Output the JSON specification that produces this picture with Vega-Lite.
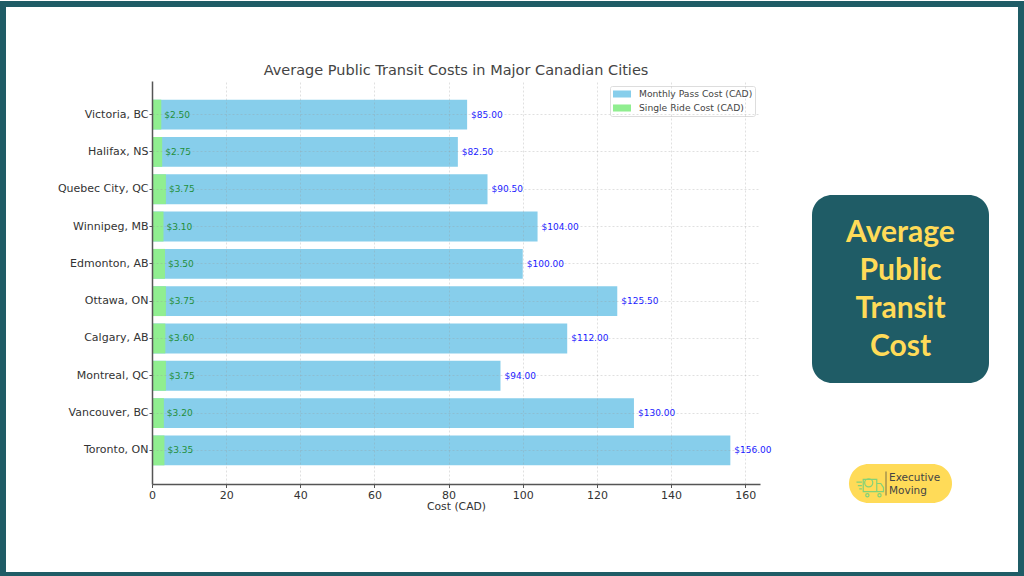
{"$schema":"https://vega.github.io/schema/vega-lite/v6.json","background":"white","padding":0,"bounds":"flush","spacing":0,"resolve":{"legend":{"color":"independent"}},"config":{"view":{"stroke":null},"font":"DejaVu Sans","text":{"fontSize":1}},"datasets":{"costs":[{"city":"Victoria, BC","series":"Monthly Pass Cost (CAD)","cost":85},{"city":"Halifax, NS","series":"Monthly Pass Cost (CAD)","cost":82.5},{"city":"Quebec City, QC","series":"Monthly Pass Cost (CAD)","cost":90.5},{"city":"Winnipeg, MB","series":"Monthly Pass Cost (CAD)","cost":104},{"city":"Edmonton, AB","series":"Monthly Pass Cost (CAD)","cost":100},{"city":"Ottawa, ON","series":"Monthly Pass Cost (CAD)","cost":125.5},{"city":"Calgary, AB","series":"Monthly Pass Cost (CAD)","cost":112},{"city":"Montreal, QC","series":"Monthly Pass Cost (CAD)","cost":94},{"city":"Vancouver, BC","series":"Monthly Pass Cost (CAD)","cost":130},{"city":"Toronto, ON","series":"Monthly Pass Cost (CAD)","cost":156},{"city":"Victoria, BC","series":"Single Ride Cost (CAD)","cost":2.5},{"city":"Halifax, NS","series":"Single Ride Cost (CAD)","cost":2.75},{"city":"Quebec City, QC","series":"Single Ride Cost (CAD)","cost":3.75},{"city":"Winnipeg, MB","series":"Single Ride Cost (CAD)","cost":3.1},{"city":"Edmonton, AB","series":"Single Ride Cost (CAD)","cost":3.5},{"city":"Ottawa, ON","series":"Single Ride Cost (CAD)","cost":3.75},{"city":"Calgary, AB","series":"Single Ride Cost (CAD)","cost":3.6},{"city":"Montreal, QC","series":"Single Ride Cost (CAD)","cost":3.75},{"city":"Vancouver, BC","series":"Single Ride Cost (CAD)","cost":3.2},{"city":"Toronto, ON","series":"Single Ride Cost (CAD)","cost":3.35}],"blank":[{"t":""}],"panel":[{"t":"Average"},{"t":"Public"},{"t":"Transit"},{"t":"Cost"}],"logo":[{"t":"Executive"},{"t":"Moving"}]},"hconcat":[{"bounds":"flush","spacing":0,"vconcat":[{"width":1024,"height":6,"view":{"fill":"#1f5c66","stroke":null},"data":{"name":"blank"},"mark":"text","encoding":{"text":{"field":"t"}}},{"width":6,"height":565,"view":{"fill":"#1f5c66","stroke":null},"data":{"name":"blank"},"mark":"text","encoding":{"text":{"field":"t"}}},{"width":1024,"height":5,"view":{"fill":"#1f5c66","stroke":null},"data":{"name":"blank"},"mark":"text","encoding":{"text":{"field":"t"}}}]},{"width":152,"height":1,"data":{"name":"blank"},"mark":"text","encoding":{"text":{"field":"t"}}},{"bounds":"flush","spacing":0,"resolve":{"legend":{"color":"independent"}},"vconcat":[{"width":1,"height":80,"data":{"name":"blank"},"mark":"text","encoding":{"text":{"field":"t"}}},{"width":608,"height":403,"title":{"text":"Average Public Transit Costs in Major Canadian Cities","fontSize":14.5,"fontWeight":"normal","color":"#444444","anchor":"middle","offset":3},"data":{"name":"costs"},"encoding":{"y":{"field":"city","type":"nominal","sort":null,"title":null,"scale":{"paddingInner":0.2,"paddingOuter":0.5},"axis":{"labelFontSize":11,"labelColor":"#333333","domainColor":"#555555","domainWidth":1.5,"tickColor":"#555555","tickSize":3,"labelPadding":1,"gridColor":"#999999","gridOpacity":0.3,"gridDash":[2,2],"grid":true,"zindex":1}},"x":{"field":"cost","type":"quantitative","title":"Cost (CAD)","scale":{"domain":[0,164],"nice":false},"axis":{"values":[0,20,40,60,80,100,120,140,160],"labelFontSize":11,"labelColor":"#333333","labelFlush":false,"titleFontSize":10.8,"titleFontWeight":"normal","titleColor":"#333333","titlePadding":0,"domainColor":"#555555","domainWidth":1.5,"tickColor":"#555555","tickSize":3.5,"gridColor":"#999999","gridOpacity":0.3,"gridDash":[2,2],"grid":true,"zindex":1}}},"layer":[{"mark":{"type":"bar"},"encoding":{"x":{"field":"cost","type":"quantitative","stack":null},"color":{"field":"series","type":"nominal","sort":null,"title":null,"scale":{"domain":["Monthly Pass Cost (CAD)","Single Ride Cost (CAD)"],"range":["#87ceeb","#90ee90"]},"legend":{"orient":"top-right","offset":5,"labelFontSize":9.2,"labelColor":"#444444","labelOffset":15.5,"fillColor":"white","strokeColor":"#dddddd","cornerRadius":2,"padding":2.5,"rowPadding":3,"symbolType":"M-0.91,-0.64H2.36V0.64H-0.91Z","symbolSize":121,"symbolStrokeWidth":0,"symbolOpacity":1}}}},{"transform":[{"filter":"datum.series === 'Monthly Pass Cost (CAD)'"}],"mark":{"type":"text","align":"left","dx":4,"fontSize":9,"color":"#1a1aff"},"encoding":{"text":{"field":"cost","type":"quantitative","format":"$.2f"}}},{"transform":[{"filter":"datum.series === 'Single Ride Cost (CAD)'"}],"mark":{"type":"text","align":"left","dx":3,"fontSize":9,"color":"#1f8f3a"},"encoding":{"text":{"field":"cost","type":"quantitative","format":"$.2f"}}}]}]},{"width":660,"height":1,"data":{"name":"blank"},"mark":"text","encoding":{"text":{"field":"t"}}},{"bounds":"flush","spacing":0,"vconcat":[{"width":1,"height":194,"data":{"name":"blank"},"mark":"text","encoding":{"text":{"field":"t"}}},{"width":177,"height":188,"view":{"fill":"#1f5c66","cornerRadius":20,"stroke":null},"data":{"name":"panel"},"mark":{"type":"text","font":"Lato","fontWeight":"bold","fontSize":30,"color":"#ffdb58","baseline":"middle","dy":1},"encoding":{"text":{"field":"t"},"y":{"field":"t","type":"ordinal","sort":null,"axis":null,"scale":{"type":"point","padding":0.97}}}},{"width":1,"height":81,"data":{"name":"blank"},"mark":"text","encoding":{"text":{"field":"t"}}},{"bounds":"flush","spacing":0,"hconcat":[{"width":37,"height":1,"data":{"name":"blank"},"mark":"text","encoding":{"text":{"field":"t"}}},{"width":103,"height":39,"view":{"fill":"#ffdb58","cornerRadius":19.5,"stroke":null},"layer":[{"data":{"name":"logo"},"mark":{"type":"text","font":"DejaVu Sans","fontSize":10.5,"color":"#444444","align":"left","baseline":"middle","dx":-11.5,"dy":1},"encoding":{"text":{"field":"t"},"y":{"field":"t","type":"ordinal","sort":null,"axis":null,"scale":{"type":"point","padding":1}}}},{"data":{"name":"blank"},"mark":{"type":"point","filled":false,"stroke":"#4fcf85","strokeWidth":1.2,"size":729,"xOffset":-30.5,"shape":"M-0.5,-0.3H0.5V0.6H-0.5ZM0.5,0H0.8L1,0.3V0.6H0.5ZM-0.1,-0.35a0.3,0.3 0 1 0 0.01,0ZM-1,-0.1H-0.6M-0.9,0.15H-0.6M-0.8,0.4H-0.6M-0.2,0.75a0.12,0.12 0 1 0 0.01,0ZM0.7,0.75a0.12,0.12 0 1 0 0.01,0Z"},"encoding":{}},{"data":{"name":"blank"},"mark":{"type":"point","filled":false,"stroke":"#444444","strokeWidth":1,"size":576,"xOffset":-14.5,"shape":"M0,-1V1"},"encoding":{}}]}]}]},{"width":206,"height":1,"data":{"name":"blank"},"mark":"text","encoding":{"text":{"field":"t"}}},{"width":6,"height":576,"view":{"fill":"#1f5c66","stroke":null},"data":{"name":"blank"},"mark":"text","encoding":{"text":{"field":"t"}}}]}
